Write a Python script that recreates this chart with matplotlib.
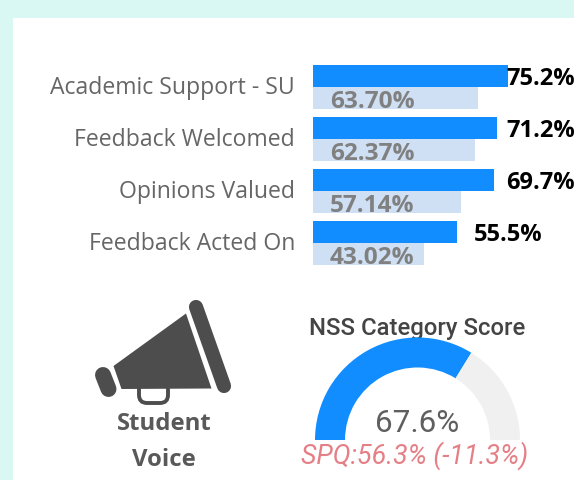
import matplotlib
matplotlib.use("Agg")
import matplotlib.pyplot as plt
from matplotlib.patches import FancyBboxPatch, Polygon, Rectangle

categories = ["Academic Support - SU", "Feedback Welcomed", "Opinions Valued", "Feedback Acted On"]
scores = [75.2, 71.2, 69.7, 55.5]
spq_scores = [63.70, 62.37, 57.14, 43.02]
gauge_value = 67.6
gauge_max = 100
gauge_title = "NSS Category Score"
gauge_note = "SPQ:56.3% (-11.3%)"

W, H = 574, 480
BLUE = "#118dff"
LIGHT = "#cfe0f5"


def py(y):
    return H - y


def rect(x0, y0, x1, y1):
    # pixel box -> figure fractions
    return [x0 / W, (H - y1) / H, (x1 - x0) / W, (y1 - y0) / H]


fig = plt.figure(figsize=(W / 100, H / 100), dpi=100, facecolor="#d9f8f3")

# white panel + icon, drawn in pixel coordinates
bg = fig.add_axes([0, 0, 1, 1])
bg.set_xlim(0, W)
bg.set_ylim(0, H)
bg.axis("off")
bg.add_patch(Rectangle((13, 0), W - 13, H - 18, color="white", lw=0))

ICON = "#4d4d4d"
bg.add_patch(FancyBboxPatch((139, py(403)), 29, 22, boxstyle="round,pad=0,rounding_size=8",
                            fc="none", ec=ICON, lw=2.8, zorder=2))
bg.add_patch(Polygon([(113.5, py(366)), (186, py(313.5)), (211.5, py(388.5)), (121.5, py(389))],
                     closed=True, color=ICON, lw=0, zorder=3))
bg.plot([196, 224], [py(307), py(386)], color=ICON, lw=10.2, solid_capstyle="round")
bg.plot([103, 108.5], [py(375), py(389)], color=ICON, lw=11.5, solid_capstyle="round")
bg.text(164, py(424.5), "Student", ha="center", va="center", fontsize=17.2,
        fontweight="bold", color="#595959", family="Open Sans")
bg.text(164, py(459.5), "Voice", ha="center", va="center", fontsize=17.2,
        fontweight="bold", color="#595959", family="Open Sans")

# bars
ax = fig.add_axes(rect(313, 61, 572, 269))
ax.patch.set_alpha(0)
ypos = list(range(len(categories)))
bar_h = 0.41
ax.barh([y - 0.21 for y in ypos], scores, height=bar_h, color=BLUE)
ax.barh([y + 0.21 for y in ypos], spq_scores, height=bar_h, color=LIGHT)
ax.set_xlim(0, 100)
ax.set_ylim(len(categories) - 0.5, -0.5)
# labels sit a touch above the group centre
ax.set_yticks([y - 0.035 for y in ypos], categories, fontsize=16.6, color="#666666", family="Open Sans")
ax.tick_params(axis="y", length=0, pad=13)
ax.set_xticks([])
for s in ax.spines.values():
    s.set_visible(False)

for y, v, sp in zip(ypos, scores, spq_scores):
    ax.text(min(v + 6.5, 74.6), y - 0.15, f"{v:.1f}%", ha="left", va="center",
            fontsize=17, fontweight="bold", color="black", family="Open Sans",
            clip_on=False)
    ax.text(6.5, y + 0.29, f"{sp:.2f}%", ha="left", va="center",
            fontsize=17.6, fontweight="bold", color="#808080", family="Open Sans")

# gauge
gx = fig.add_axes(rect(315, 337.5, 520, 440))
gx.pie([gauge_value, gauge_max - gauge_value, gauge_max], startangle=180, counterclock=False,
       colors=[BLUE, "#f1f0f0", "none"], radius=1,
       wedgeprops={"width": 30 / 102.5, "linewidth": 0})
gx.set_xlim(-1, 1)
gx.set_ylim(0, 1)
gx.set_aspect("auto")

bg.text(417.5, py(328), gauge_title, ha="center", va="center", fontsize=17.2,
        fontweight=500, color="#444444", family="Roboto")
bg.text(417.5, py(424), f"{gauge_value}%", ha="center", va="center", fontsize=22.6,
        color="#5f5f5f", family="Roboto")
bg.text(415, py(456), gauge_note, ha="center", va="center", fontsize=19.3,
        style="italic", color="#e57f86", family="Roboto")

fig.savefig("out.png", dpi=100, facecolor=fig.get_facecolor())
